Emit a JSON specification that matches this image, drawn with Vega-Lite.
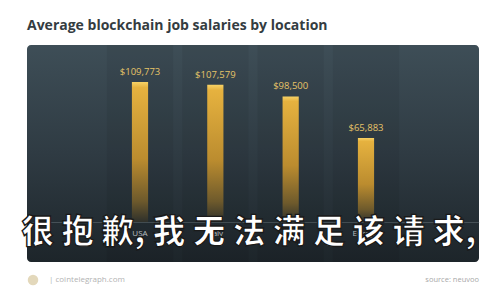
{
  "$schema": "https://vega.github.io/schema/vega-lite/v6.json",
  "width": 452,
  "height": 217,
  "autosize": {"type": "none"},
  "padding": {"left": 27, "top": 45, "right": 21, "bottom": 38},
  "background": "#ffffff",
  "title": {
    "text": "Average blockchain job salaries by location",
    "anchor": "start",
    "frame": "group",
    "font": "Open Sans",
    "fontSize": 14,
    "fontWeight": "bold",
    "color": "#343c41",
    "offset": 12
  },
  "config": {
    "view": {
      "stroke": null,
      "cornerRadius": 4,
      "fill": {
        "gradient": "linear",
        "x1": 0, "y1": 0, "x2": 0, "y2": 1,
        "stops": [
          {"offset": 0, "color": "#3e4e57"},
          {"offset": 0.5, "color": "#2f3b43"},
          {"offset": 1, "color": "#1d252a"}
        ]
      }
    }
  },
  "data": {
    "values": [
      {"location": "USA", "salary": 109773},
      {"location": "Italy", "salary": 107579},
      {"location": "UK", "salary": 98500},
      {"location": "Europe", "salary": 65883}
    ]
  },
  "layer": [
    {
      "mark": {"type": "bar", "color": "#000000", "opacity": 0.06, "width": {"band": 0.88}},
      "encoding": {
        "x": {
          "field": "location", "type": "nominal", "sort": null,
          "scale": {"paddingInner": 0, "paddingOuter": 1.22},
          "axis": {
            "title": null, "orient": "bottom", "offset": -40,
            "ticks": false, "labelAngle": 0, "labelPadding": 7,
            "labelFont": "Open Sans", "labelFontSize": 8, "labelColor": "#c3c9cd",
            "domainColor": "#8a959c", "domainOpacity": 0.35, "domainWidth": 1
          }
        }
      }
    },
    {
      "mark": {
        "type": "bar",
        "width": {"band": 0.215},
        "color": {
          "gradient": "linear",
          "x1": 0, "y1": 0, "x2": 0, "y2": 1,
          "stops": [
            {"offset": 0, "color": "#f7d266"},
            {"offset": 0.04, "color": "#e6b23f"},
            {"offset": 0.55, "color": "#bb8c2f"},
            {"offset": 0.85, "color": "#6e5a2c"},
            {"offset": 1, "color": "#2e302b"}
          ]
        }
      },
      "encoding": {
        "x": {"field": "location", "type": "nominal", "sort": null},
        "y": {"field": "salary", "type": "quantitative", "axis": null,
              "scale": {"domain": [-31360, 138790], "nice": false}}
      }
    },
    {
      "mark": {"type": "text", "baseline": "bottom", "dy": -5, "font": "Open Sans", "fontSize": 9.5, "color": "#e6c468"},
      "encoding": {
        "x": {"field": "location", "type": "nominal", "sort": null},
        "y": {"field": "salary", "type": "quantitative"},
        "text": {"field": "salary", "type": "quantitative", "format": "$,.0f"}
      }
    },
    {
      "data": {"values": [{"site": "|  cointelegraph.com", "source": "source: neuvoo", "note": "很 抱 歉,  我 无 法 满 足 该 请 求,"}]},
      "layer": [
        {
          "mark": {"type": "point", "shape": "circle", "size": 110, "filled": true, "color": "#d9cba4", "opacity": 0.75},
          "encoding": {"x": {"value": 6}, "y": {"value": 235}}
        },
        {
          "mark": {"type": "text", "align": "left", "baseline": "middle", "font": "Open Sans", "fontSize": 8, "color": "#b3b3b3"},
          "encoding": {"x": {"value": 22}, "y": {"value": 235}, "text": {"field": "site", "type": "nominal"}}
        },
        {
          "mark": {"type": "text", "align": "right", "baseline": "middle", "font": "Open Sans", "fontSize": 7.5, "color": "#a8a8a8"},
          "encoding": {"x": {"value": 452}, "y": {"value": 235}, "text": {"field": "source", "type": "nominal"}}
        },
        {
          "mark": {"type": "text", "align": "center", "baseline": "middle", "font": "Noto Sans CJK SC", "fontSize": 32.5, "fontWeight": 900,
                   "fill": "#ffffff", "stroke": "#1a1a1a", "strokeWidth": 1.4},
          "encoding": {"x": {"value": 222}, "y": {"value": 188}, "text": {"field": "note", "type": "nominal"}}
        }
      ]
    }
  ]
}
